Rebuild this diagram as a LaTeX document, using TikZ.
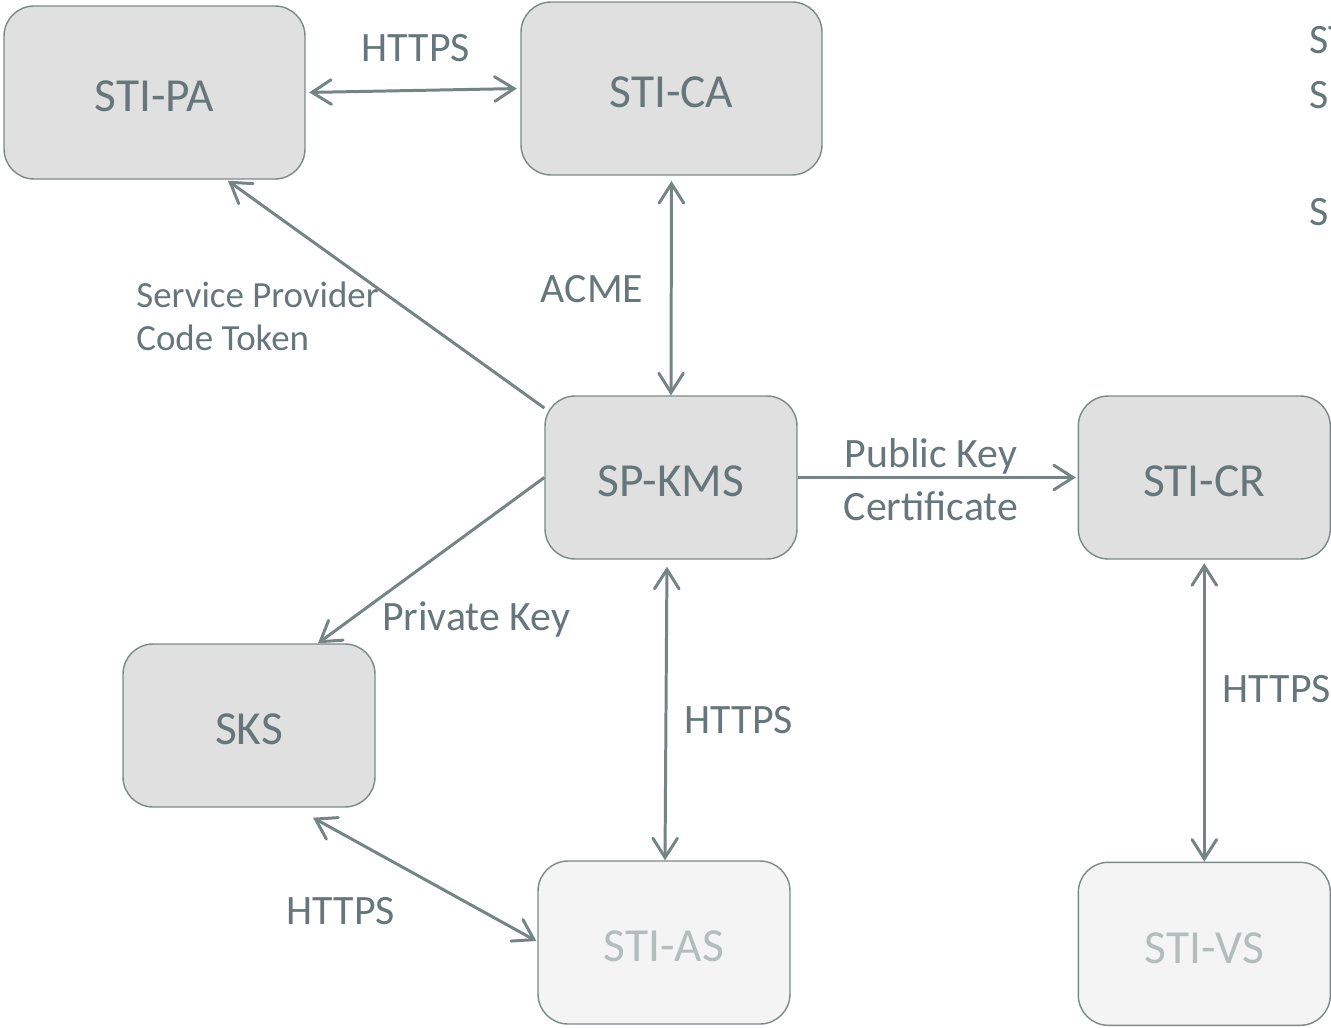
\documentclass[tikz,border=0pt]{standalone}
\usepackage{fontspec}
\setmainfont{Carlito}
\usetikzlibrary{positioning, calc, arrows.meta}

\definecolor{boxfill}{HTML}{E0E0E0}
\definecolor{fadefill}{HTML}{F4F4F4}
\definecolor{boxline}{HTML}{7E8888}
\definecolor{linegray}{HTML}{768484}
\definecolor{txtgray}{HTML}{66767A}
\definecolor{fadetext}{HTML}{B4BCBC}

\begin{document}
\begin{tikzpicture}[
    x=0.02cm, y=-0.02cm,
    >={Straight Barb[length=11pt, width=14pt, line cap=round]},
    box/.style={
        draw=boxline, line width=0.8pt, fill=boxfill, text=txtgray,
        rounded corners=0.6cm, minimum width=5.04cm, minimum height=3.26cm,
        text height=22pt, text depth=0pt,
        font=\fontsize{27}{32}\selectfont
    },
    wide/.style={
        minimum width=6.02cm, minimum height=3.46cm
    },
    faded/.style={
        fill=fadefill, text=fadetext
    },
    lbl/.style={
        text=txtgray, inner sep=0pt, font=\fontsize{23.8}{28}\selectfont
    },
    small/.style={
        text=txtgray, inner sep=0pt, align=left, font=\fontsize{21}{24.4}\selectfont
    },
    link/.style={
        draw=linegray, line width=1.7pt
    }
]

    \useasboundingbox (0,0) rectangle (1331,1027);
    \clip (0,0) rectangle (1331,1027);

    \node[box,wide](pa) at (154.5,92.5){STI-PA};
    \node[box,wide](ca) at (671.5,88.5){STI-CA};
    \node[box](kms) at (671,477.5){SP-KMS};
    \node[box,right=5.6cm of kms](cr){STI-CR};
    \node[box](sks) at (249,725.5){SKS};
    \node[box,faded](as) at (664,942.5){STI-AS};
    \node[box,faded,below=6.04cm of cr](vs){STI-VS};

    \node[lbl](h1) at (416,48){HTTPS};
    \node[lbl](acme) at (592,289){ACME};
    \node[small,anchor=west](sp) at (136,316){Service Provider\\Code Token};
    \node[lbl](prk) at (476,619){Private Key};
    \node[lbl](h2) at (739,720){HTTPS};
    \node[lbl](pub) at (931,456){Public Key};
    \node[lbl](cert) at (931,506){Certificate};
    \node[lbl](h3) at (1277,689){HTTPS};
    \node[lbl](h4) at (341,911){HTTPS};

    \node[lbl,anchor=west](r1) at (1309,40){ST};
    \node[lbl,anchor=west](r2) at (1309,95){S};
    \node[lbl,anchor=west](r3) at (1309,212){S};

    \draw[link,<->,shorten <=2pt,shorten >=2pt] (pa.east) to (ca.west);
    \draw[link,<->,shorten <=3pt] (ca.south) to (kms.north);
    \draw[link,->,shorten >=1pt] ($(kms.west)+(0,-69.5)$) to ($(pa.south)+(72,0)$);
    \draw[link,->] (kms.west) to ($(sks.north)+(69,0)$);
    \draw[link,<->,shorten <=4pt] ($(kms.south)+(-4,0)$) to ($(as.north)+(1,0)$);
    \draw[link,->,shorten >=1pt] (kms.east) to (cr.west);
    \draw[link,<->,shorten <=2pt] (cr.south) to (vs.north);
    \draw[link,<->] ($(sks.south)+(64,10)$) to ($(as.west)+(-1,-1.5)$);

\end{tikzpicture}
\end{document}
